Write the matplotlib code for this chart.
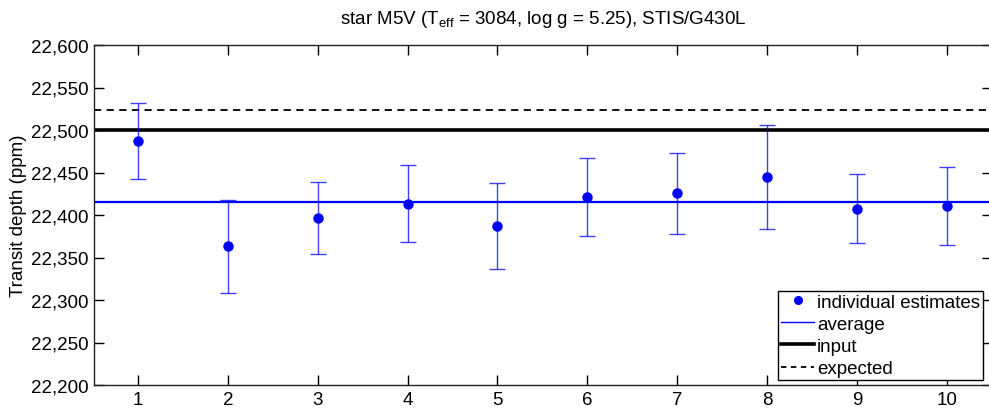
import numpy as np
import matplotlib.pyplot as plt
from matplotlib.lines import Line2D
from matplotlib.ticker import StrMethodFormatter

plt.rcParams['font.family'] = ['Liberation Sans', 'DejaVu Sans']
plt.rcParams['mathtext.fontset'] = 'custom'
plt.rcParams['mathtext.rm'] = 'Liberation Sans'
plt.rcParams['mathtext.it'] = 'Liberation Sans'

# transit depth estimates (ppm) for each visit
visits = np.arange(1, 11)
depth = [22487, 22363, 22396.5, 22413.5, 22387, 22421, 22425.5, 22445, 22407.5, 22410.5]
depth_err = [45, 54.5, 42.5, 45.5, 51, 46, 47.5, 61, 40.5, 45.5]

input_depth = 22500
expected_depth = 22523
average_depth = np.mean(depth)

fs = 13.5
fig = plt.figure(figsize=(9.89, 4.10), dpi=100)
ax = fig.add_axes([94 / 989, 1 - 386 / 410, 897.6 / 989, 340 / 410])

ax.errorbar(visits, depth, yerr=depth_err, fmt='none', ecolor='blue',
            elinewidth=1, capsize=6, capthick=1, alpha=0.75, zorder=3)
ax.plot(visits, depth, 'o', color='blue', markersize=6.5,
        label='individual estimates', zorder=4)
ax.axhline(average_depth, color='blue', lw=1.6, label='average', zorder=2)
ax.axhline(input_depth, color='black', lw=2.6, label='input', zorder=2)
ax.axhline(expected_depth, color='black', lw=1.3, ls=(0, (4, 3)),
           label='expected', zorder=2)

ax.set_xlim(0.51, 10.5)
ax.set_ylim(22200, 22600)
ax.set_xticks(visits)
ax.set_yticks(np.arange(22200, 22601, 50))
ax.yaxis.set_major_formatter(StrMethodFormatter('{x:,.0f}'))
ax.tick_params(direction='in', length=7, width=1, top=True, right=True,
               labelsize=fs, pad=4)
for s in ax.spines.values():
    s.set_linewidth(1)
    s.set_color('#222222')

ax.set_ylabel('Transit depth (ppm)', fontsize=fs, labelpad=3)
ax.set_title(r'star M5V (T$_{\rm eff}$ = 3084, log g = 5.25), STIS/G430L',
             fontsize=fs, pad=16)

# legend handles: thin lines in the key
handles = [
    Line2D([], [], ls='none', marker='o', color='blue', markersize=5.5),
    Line2D([], [], color='blue', lw=1),
    Line2D([], [], color='black', lw=2.6),
    Line2D([], [], color='black', lw=1.3, ls=(0, (3, 2.5))),
]
labels = ['individual estimates', 'average', 'input', 'expected']
leg = ax.legend(handles, labels, loc='lower right', fontsize=fs,
                bbox_to_anchor=(983 / 989, 1 - 381 / 410),
                bbox_transform=fig.transFigure,
                fancybox=False, framealpha=1, edgecolor='black',
                borderpad=0.15, labelspacing=0.27, handlelength=1.8,
                handletextpad=0.15, borderaxespad=0)
leg.get_frame().set_linewidth(1)

fig.savefig('out.png', dpi=100)
